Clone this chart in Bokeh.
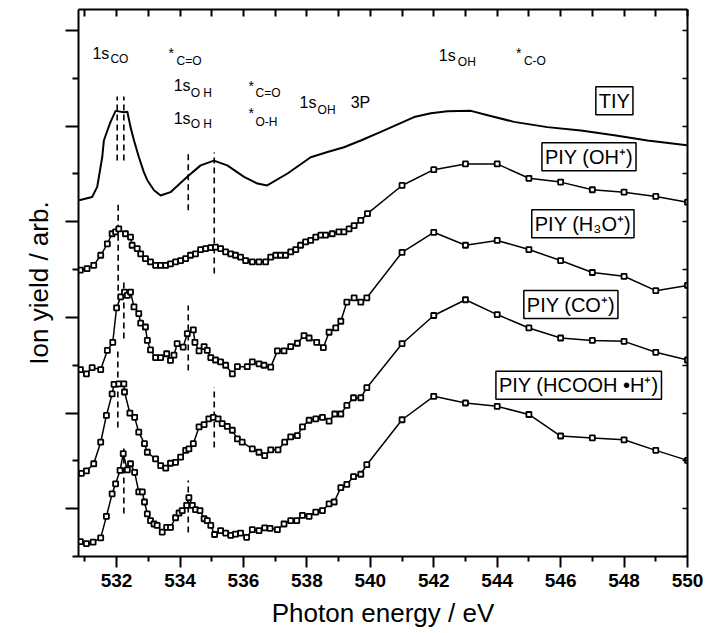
from bokeh.plotting import figure
from bokeh.models import Range1d, LinearAxis, FixedTicker, Label, CustomJSTickFormatter
from bokeh.embed import file_html
from bokeh.resources import INLINE

# ---------------- data ----------------
tiy_x = [530.82, 531.23, 531.39, 531.55, 531.60, 531.71, 531.81, 531.97, 532.23, 532.34, 532.44,
         532.55, 532.70, 532.86, 532.97, 533.18, 533.39, 533.70, 534.23, 534.65, 535.07, 535.49,
         536.02, 536.44, 536.75, 537.39, 538.12, 538.65, 539.17, 539.70, 540.33, 541.38, 541.91,
         542.43, 543.17, 543.70, 544.53, 545.58, 546.64, 547.69, 548.74, 549.98]
tiy_y = [7.45, 7.52, 7.73, 8.36, 8.70, 8.91, 9.09, 9.32, 9.29, 9.30, 8.98,
         8.70, 8.36, 8.04, 7.87, 7.66, 7.55, 7.62, 7.94, 8.18, 8.28, 8.18,
         7.94, 7.80, 7.76, 8.01, 8.35, 8.46, 8.56, 8.70, 8.88, 9.19, 9.27,
         9.31, 9.32, 9.23, 9.09, 8.98, 8.91, 8.81, 8.70, 8.60]

oh_x = [530.86, 531.07, 531.28, 531.50, 531.71, 531.86, 531.97, 532.07, 532.28, 532.44, 532.49,
        532.65, 532.76, 532.91, 533.07, 533.23, 533.39, 533.55, 533.70, 533.86, 534.02, 534.18,
        534.33, 534.49, 534.65, 534.81, 534.97, 535.12, 535.28, 535.44, 535.60, 535.75, 535.91,
        536.07, 536.28, 536.49, 536.70, 536.86, 537.02, 537.17, 537.33, 537.49, 537.65, 537.80,
        537.96, 538.12, 538.28, 538.44, 538.59, 538.80, 539.01, 539.17, 539.33, 539.49, 539.70,
        539.91, 541, 542, 543, 544, 545, 546, 547, 548, 549, 550]
oh_y = [5.99, 6.02, 6.09, 6.30, 6.54, 6.75, 6.79, 6.85, 6.75, 6.68, 6.51,
        6.44, 6.33, 6.23, 6.16, 6.09, 6.09, 6.09, 6.12, 6.16, 6.19, 6.23,
        6.30, 6.33, 6.42, 6.44, 6.46, 6.47, 6.44, 6.37, 6.33, 6.30, 6.26,
        6.19, 6.16, 6.16, 6.16, 6.26, 6.30, 6.30, 6.30, 6.37, 6.42, 6.51,
        6.58, 6.61, 6.68, 6.72, 6.72, 6.75, 6.79, 6.79, 6.85, 6.92, 7.03,
        7.17, 7.76, 8.09, 8.21, 8.21, 7.91, 7.83, 7.67, 7.62, 7.53, 7.41]

h3o_x = [530.86, 531.05, 531.23, 531.50, 531.71, 531.88, 532.00, 532.13, 532.25, 532.34, 532.44,
         532.55, 532.70, 532.76, 532.91, 532.97, 533.07, 533.23, 533.39, 533.58, 533.70, 533.81,
         533.91, 534.10, 534.23, 534.42, 534.47, 534.60, 534.76, 534.86, 534.97, 535.12, 535.28,
         535.44, 535.65, 535.81, 536.12, 536.28, 536.49, 536.65, 536.86, 537.07, 537.28, 537.49,
         537.70, 537.91, 538.07, 538.31, 538.52, 538.70, 538.91, 539.07, 539.26, 539.49, 539.70,
         539.89, 541, 542, 543, 544, 545, 546, 547, 548, 549, 550]
h3o_y = [3.91, 3.82, 3.95, 3.91, 4.31, 4.48, 5.20, 5.43, 5.53, 5.46, 5.53,
         5.22, 5.08, 4.88, 4.80, 4.52, 4.32, 4.16, 4.16, 4.24, 4.10, 4.21,
         4.45, 4.38, 4.66, 4.74, 4.48, 4.30, 4.39, 4.31, 4.16, 4.11, 4.07,
         4.00, 3.82, 3.97, 3.97, 4.07, 4.03, 4.00, 3.96, 4.30, 4.30, 4.39,
         4.46, 4.62, 4.57, 4.48, 4.37, 4.69, 4.78, 4.92, 5.32, 5.41, 5.32,
         5.41, 6.36, 6.78, 6.51, 6.61, 6.42, 6.19, 5.94, 5.86, 5.56, 5.67]

co_x = [530.89, 531.05, 531.28, 531.50, 531.68, 531.86, 531.92, 532.07, 532.23, 532.25, 532.42,
        532.57, 532.70, 532.88, 532.97, 533.23, 533.39, 533.55, 533.70, 533.86, 534.02, 534.18,
        534.28, 534.42, 534.60, 534.76, 534.91, 535.05, 535.20, 535.33, 535.49, 535.65, 535.81,
        535.96, 536.28, 536.49, 536.67, 536.86, 537.09, 537.30, 537.49, 537.70, 537.86, 538.07,
        538.28, 538.49, 538.70, 538.88, 539.07, 539.26, 539.47, 539.70, 539.89,
        541, 542, 543, 544, 545, 546, 547, 548, 549, 550]
co_y = [1.74, 1.79, 1.94, 2.39, 2.95, 3.40, 3.60, 3.61, 3.61, 3.44, 3.00,
        2.91, 2.60, 2.36, 2.18, 2.04, 1.90, 1.85, 1.95, 1.97, 2.08, 2.22,
        2.25, 2.36, 2.71, 2.76, 2.88, 2.91, 2.88, 2.78, 2.72, 2.64, 2.46,
        2.39, 2.25, 2.18, 2.11, 2.23, 2.23, 2.39, 2.50, 2.53, 2.71, 2.85,
        2.88, 2.91, 2.83, 2.98, 2.98, 3.16, 3.32, 3.32, 3.53,
        4.45, 5.04, 5.37, 5.06, 4.78, 4.57, 4.52, 4.50, 4.27, 4.11]

hc_x = [530.86, 531.05, 531.26, 531.50, 531.68, 531.86, 531.97, 532.11, 532.21, 532.34, 532.44,
        532.57, 532.70, 532.81, 532.88, 532.97, 533.07, 533.18, 533.28, 533.44, 533.58, 533.70,
        533.86, 533.97, 534.07, 534.21, 534.28, 534.39, 534.49, 534.63, 534.76, 534.86, 534.97,
        535.09, 535.28, 535.44, 535.60, 535.75, 535.91, 536.10, 536.28, 536.49, 536.67, 536.84,
        537.07, 537.28, 537.49, 537.68, 537.86, 538.07, 538.28, 538.49, 538.70, 538.86, 539.07,
        539.26, 539.47, 539.70, 539.89, 541, 542, 543, 544, 545, 546, 547, 548, 549, 550]
hc_y = [0.31, 0.27, 0.30, 0.39, 0.84, 1.31, 1.52, 1.80, 2.15, 1.81, 1.94,
        1.76, 1.35, 1.35, 1.14, 0.89, 0.75, 0.68, 0.65, 0.51, 0.61, 0.61,
        0.81, 0.91, 0.96, 1.07, 1.23, 1.07, 0.98, 0.96, 0.79, 0.75, 0.65,
        0.46, 0.54, 0.49, 0.44, 0.47, 0.49, 0.40, 0.56, 0.54, 0.60, 0.59,
        0.56, 0.68, 0.75, 0.75, 0.86, 0.84, 0.93, 0.96, 1.10, 1.14, 1.44,
        1.51, 1.67, 1.72, 1.92, 2.86, 3.35, 3.21, 3.14, 2.97, 2.52, 2.48, 2.44, 2.22, 2.01]

# vertical dashed marker lines (energy, lower, upper)
dash_x = [532.02, 532.23, 534.26, 535.08, 532.05, 532.23, 534.26, 532.04, 535.08, 532.23, 534.26]
dash_y0 = [8.28, 8.28, 7.24, 5.92, 5.56, 4.56, 3.89, 2.70, 2.28, 0.90, 0.50]
dash_y1 = [9.62, 9.62, 8.45, 8.45, 7.41, 5.77, 5.25, 4.31, 3.54, 2.26, 1.59]

x_major = list(range(532, 551, 2))
x_minor = list(range(531, 551, 2))
x_top = list(range(531, 551))
y_major = [1, 3, 5, 7, 9, 11]
y_minor = [0, 2, 4, 6, 8, 10]
y_right = list(range(0, 12))

FONT = "Liberation Sans"

p = figure(width=711, height=633, output_backend="svg", toolbar_location=None,
           x_range=Range1d(530.8, 550.0), y_range=Range1d(0, 11.44),
           min_border_left=78, min_border_right=24, min_border_top=9, min_border_bottom=77,
           x_axis_label="Photon energy / eV", y_axis_label="Ion yield / arb.")
p.outline_line_color = None
p.grid.visible = False
p.background_fill_color = "white"

blank = CustomJSTickFormatter(code="return ''")

# bottom axis
xa = p.xaxis[0]
xa.ticker = FixedTicker(ticks=x_major, minor_ticks=x_minor)
xa.major_tick_out = 11
xa.major_tick_in = 0
xa.minor_tick_out = 5
xa.minor_tick_in = 0
xa.axis_line_width = 2
xa.axis_line_color = "black"
xa.major_tick_line_width = 2
xa.minor_tick_line_width = 2
xa.major_tick_line_color = "black"
xa.minor_tick_line_color = "black"
xa.major_label_text_font = FONT
xa.major_label_text_font_style = "bold"
xa.major_label_text_font_size = "19px"
xa.major_label_text_color = "black"
xa.major_label_standoff = 6
xa.axis_label_text_font = FONT
xa.axis_label_text_font_style = "normal"
xa.axis_label_text_font_size = "26px"
xa.axis_label_text_color = "black"
xa.axis_label_standoff = 8

# left axis
ya = p.yaxis[0]
ya.ticker = FixedTicker(ticks=y_major, minor_ticks=y_minor)
ya.formatter = blank
ya.major_tick_out = 13
ya.major_tick_in = 0
ya.minor_tick_out = 6
ya.minor_tick_in = 0
ya.axis_line_width = 2
ya.axis_line_color = "black"
ya.major_tick_line_width = 2
ya.minor_tick_line_width = 2
ya.major_tick_line_color = "black"
ya.minor_tick_line_color = "black"
ya.major_label_standoff = 0
ya.axis_label_text_font = FONT
ya.axis_label_text_font_style = "normal"
ya.axis_label_text_font_size = "26px"
ya.axis_label_text_color = "black"
ya.axis_label_standoff = 12

# top axis
ta = LinearAxis(ticker=FixedTicker(ticks=x_top), formatter=blank,
                major_tick_in=7, major_tick_out=0, minor_tick_in=0, minor_tick_out=0,
                axis_line_width=2, major_tick_line_width=2, major_label_standoff=0,
                axis_line_color="black", major_tick_line_color="black")
p.add_layout(ta, "above")
# right axis
ra = LinearAxis(ticker=FixedTicker(ticks=y_right), formatter=blank,
                major_tick_in=5, major_tick_out=0, minor_tick_in=0, minor_tick_out=0,
                axis_line_width=2, major_tick_line_width=1.5, major_label_standoff=0,
                axis_line_color="black", major_tick_line_color="black")
p.add_layout(ra, "right")

# dashed lines
p.segment(x0=dash_x, y0=dash_y0, x1=dash_x, y1=dash_y1, line_color="black",
          line_width=1.6, line_dash="6 4")

# TIY
p.line(tiy_x, tiy_y, line_color="black", line_width=2)

for xs, ys in [(oh_x, oh_y), (h3o_x, h3o_y), (co_x, co_y), (hc_x, hc_y)]:
    p.line(xs, ys, line_color="black", line_width=1.5)
    p.scatter(xs, ys, marker="square", size=5, fill_color="white",
              line_color="black", line_width=1.8)


def txt(x, y, text, size, dx=0, dy=0):
    p.add_layout(Label(x=x, y=y, text=text, x_offset=dx, y_offset=dy,
                       text_font=FONT, text_font_size=f"{size}px",
                       text_align="left", text_baseline="alphabetic",
                       text_color="black"))


def sub_ann(x, y, main, sub, dx, dy, msize=16, ssize=12):
    txt(x, y, main, msize)
    txt(x, y, sub, ssize, dx, dy)


# top annotations
sub_ann(531.24, 10.52, "1s", "CO", 18, -6)
sub_ann(533.64, 10.54, "*", "C=O", 8, -8, msize=14)
sub_ann(533.80, 9.85, "1s", "O H", 17, -7)
sub_ann(536.16, 9.83, "*", "C=O", 7, -7, msize=14)
sub_ann(537.77, 9.50, "1s", "OH", 18, -8)
txt(539.38, 9.50, "3P", 16)
sub_ann(533.80, 9.16, "1s", "O H", 17, -5)
sub_ann(536.16, 9.27, "*", "O-H", 7, -9, msize=14)
sub_ann(542.16, 10.48, "1s", "OH", 19, -7)
sub_ann(544.59, 10.54, "*", "C-O", 8, -8, msize=14)


def box(x, y, text):
    p.add_layout(Label(x=x, y=y, text=text, text_font=FONT, text_font_size="20px",
                       text_align="left", text_baseline="middle", text_color="black",
                       border_line_color="black", border_line_width=1.5,
                       background_fill_color="white", padding=3))


box(547.11, 9.53, "TIY")
box(545.41, 8.36, "PIY (OH\u207a)")
box(545.09, 6.96, "PIY (H\u2083O\u207a)")
box(544.84, 5.27, "PIY (CO\u207a)")
box(543.96, 3.58, "PIY (HCOOH \u2022H\u207a)")

open("out.html", "w").write(file_html(p, INLINE))
